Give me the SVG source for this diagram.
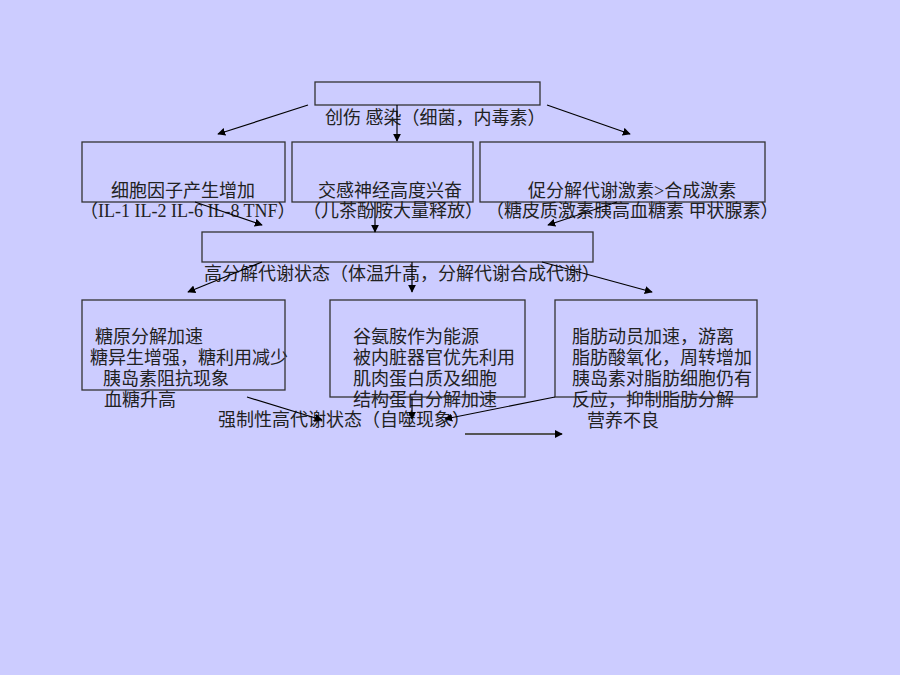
<svg xmlns="http://www.w3.org/2000/svg" width="900" height="675" viewBox="0 0 900 675">
<style>
.bg{fill:#CCCCFF}
.box{fill:none;stroke:#333333;stroke-width:1.3}
.t{font-family:"Liberation Serif","Noto Sans CJK SC",serif;font-size:18px;fill:#222222}
.c line{stroke:#000000;stroke-width:1.2;marker-end:url(#ah)}
.c line.g{stroke:#555555;stroke-width:1.8}
</style>
<defs>
<marker id="ah" viewBox="0 0 10 10" refX="9" refY="5" markerWidth="8" markerHeight="8" markerUnits="userSpaceOnUse" orient="auto">
<path d="M0,0 L10,5 L0,10 z" fill="#000000"/>
</marker>
</defs>
<rect class="bg" x="0" y="0" width="900" height="675"/>

<g id="n-top">
<rect class="box" x="315" y="82" width="225" height="23"/>
<text class="t" x="325" y="124">创伤 感染（细菌，内毒素）</text>
</g>

<g id="n-cytokine">
<rect class="box" x="82" y="142" width="203" height="60"/>
<text class="t" x="111" y="197">细胞因子产生增加</text>
<text class="t" x="80" y="217">（IL-1 IL-2 IL-6 IL-8 TNF）</text>
</g>

<g id="n-sympathetic">
<rect class="box" x="292" y="142" width="181" height="60"/>
<text class="t" x="318" y="197">交感神经高度兴奋</text>
<text class="t" x="303" y="217">（儿茶酚胺大量释放）</text>
</g>

<g id="n-hormone">
<rect class="box" x="480" y="142" width="285" height="60"/>
<text class="t" x="528" y="197">促分解代谢激素&gt;合成激素</text>
<text class="t" x="486" y="217">（糖皮质激素胰高血糖素 甲状腺素）</text>
</g>

<g id="n-hyper">
<rect class="box" x="202" y="232" width="391" height="30"/>
<text class="t" x="204" y="280">高分解代谢状态（体温升高，分解代谢合成代谢）</text>
</g>

<g id="n-sugar">
<rect class="box" x="82" y="300" width="203" height="90"/>
<text class="t" x="95" y="343">糖原分解加速</text>
<text class="t" x="90" y="364">糖异生增强，糖利用减少</text>
<text class="t" x="103" y="385">胰岛素阻抗现象</text>
<text class="t" x="104" y="406">血糖升高</text>
</g>

<g id="n-protein">
<rect class="box" x="330" y="300" width="195" height="97"/>
<text class="t" x="353" y="343">谷氨胺作为能源</text>
<text class="t" x="353" y="364">被内脏器官优先利用</text>
<text class="t" x="353" y="385">肌肉蛋白质及细胞</text>
<text class="t" x="353" y="406">结构蛋白分解加速</text>
</g>

<g id="n-fat">
<rect class="box" x="555" y="300" width="202" height="97"/>
<text class="t" x="572" y="343">脂肪动员加速，游离</text>
<text class="t" x="572" y="364">脂肪酸氧化，周转增加</text>
<text class="t" x="572" y="385">胰岛素对脂肪细胞仍有</text>
<text class="t" x="572" y="406">反应，抑制脂肪分解</text>
<text class="t" x="587" y="427">营养不良</text>
</g>

<g id="n-forced">
<text class="t" x="218" y="426">强制性高代谢状态（自噬现象）</text>
</g>

<g id="connectors" class="c">
<line x1="308" y1="105" x2="218" y2="134"/>
<line x1="397" y1="105" x2="397" y2="141"/>
<line x1="547" y1="105" x2="630" y2="134"/>
<line x1="195" y1="202" x2="262" y2="225"/>
<line x1="375" y1="202" x2="375" y2="232"/>
<line x1="617" y1="202" x2="548" y2="225"/>
<line x1="262" y1="262" x2="188" y2="292"/>
<line x1="412" y1="262" x2="412" y2="292"/>
<line x1="542" y1="262" x2="652" y2="292"/>
<line x1="247" y1="397" x2="322" y2="420"/>
<line x1="412" y1="397" x2="412" y2="419"/>
<line x1="555" y1="397" x2="445" y2="419"/>
<line class="g" x1="465" y1="434" x2="562" y2="434"/>
</g>
</svg>
